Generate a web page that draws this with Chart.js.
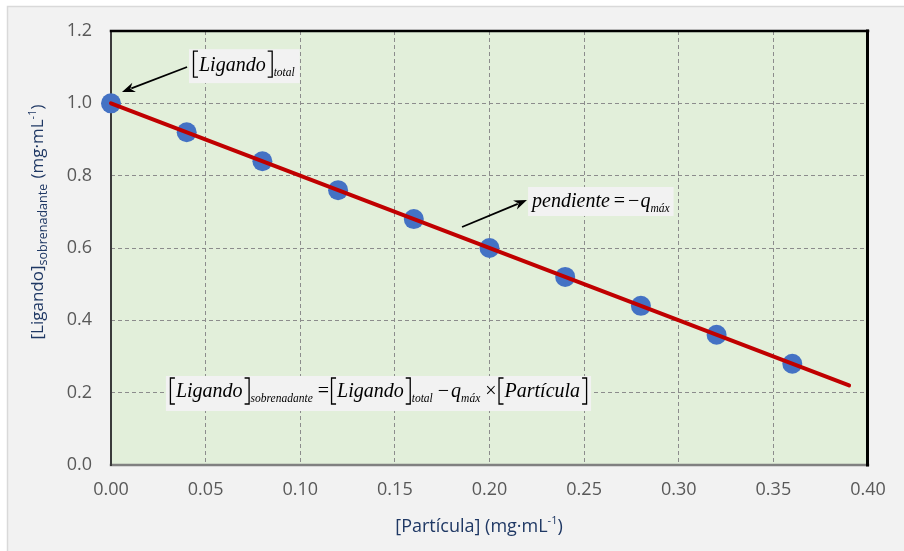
<!DOCTYPE html>
<html><head><meta charset="utf-8">
<script src="https://cdn.jsdelivr.net/npm/chart.js@4"></script>
<style>html,body{margin:0;padding:0;background:#fff;overflow:hidden}canvas{display:block}</style>
</head><body>
<canvas id="c" width="904" height="551"></canvas>
<script>
// ---- data ----
const particula = [0.00, 0.04, 0.08, 0.12, 0.16, 0.20, 0.24, 0.28, 0.32, 0.36];
const ligandoSobrenadante = [1.00, 0.92, 0.84, 0.76, 0.68, 0.60, 0.52, 0.44, 0.36, 0.28];
const ajusteX = [0.00, 0.39];
const ajusteY = [1.00, 0.22];
const xTickValues = [0, 0.05, 0.10, 0.15, 0.20, 0.25, 0.30, 0.35, 0.40];
const yTickValues = [0, 0.2, 0.4, 0.6, 0.8, 1.0, 1.2];
// annotation anchors (data units): text left / baseline, arrow from / to
const notaTotalAt = [0.0428, 1.089];
const flechaTotal = [[0.0402, 1.1005], [0.0058, 1.0313]];
const notaPendienteAt = [0.2225, 0.7134];
const flechaPendiente = [[0.1855, 0.6581], [0.2198, 0.7327]];
const notaEcuacionAt = [0.0306, 0.188];

const SERIF = '"Liberation Serif"';
const IT = 'italic 20px ' + SERIF, UP = '20px ' + SERIF, SUB = 'italic 11.5px ' + SERIF;
const SANS = '"Open Sans"';
const NAVY = '#1f3864';

function runsWidth(ctx, runs) {
  let w = 0;
  for (const r of runs) {
    if (r.b) { w += 7; continue; }
    ctx.font = r.f; w += ctx.measureText(r.t).width + (r.sp || 0);
  }
  return w;
}
function drawRuns(ctx, x, y, runs, bt, bb) {
  let cx = x;
  for (const r of runs) {
    if (r.b) {
      ctx.save(); ctx.lineWidth = 1.3; ctx.strokeStyle = ctx.fillStyle; ctx.beginPath();
      if (r.b === '[') { ctx.moveTo(cx + 6, y - bt); ctx.lineTo(cx + 1.5, y - bt); ctx.lineTo(cx + 1.5, y + bb); ctx.lineTo(cx + 6, y + bb); }
      else { ctx.moveTo(cx + 1, y - bt); ctx.lineTo(cx + 5.5, y - bt); ctx.lineTo(cx + 5.5, y + bb); ctx.lineTo(cx + 1, y + bb); }
      ctx.stroke(); ctx.restore(); cx += 7; continue;
    }
    ctx.font = r.f;
    ctx.fillText(r.t, cx, y + (r.dy || 0));
    cx += ctx.measureText(r.t).width + (r.sp || 0);
  }
  return cx - x;
}
function arrow(ctx, x1, y1, x2, y2) {
  const ang = Math.atan2(y2 - y1, x2 - x1), L = 13, W = 5;
  ctx.save(); ctx.strokeStyle = '#000'; ctx.fillStyle = '#000'; ctx.lineWidth = 1.8;
  ctx.beginPath(); ctx.moveTo(x1, y1);
  ctx.lineTo(x2 - Math.cos(ang) * (L - 3), y2 - Math.sin(ang) * (L - 3)); ctx.stroke();
  ctx.translate(x2, y2); ctx.rotate(ang);
  ctx.beginPath(); ctx.moveTo(0, 0); ctx.lineTo(-L, -W); ctx.lineTo(-L + 4, 0); ctx.lineTo(-L, W); ctx.closePath(); ctx.fill();
  ctx.restore();
}

const runsTotal = [{b:'['},{t:'Ligando',f:IT,sp:1},{b:']'},{t:'total',f:SUB,dy:5}];
const runsPend = [{t:'pendiente',f:IT,sp:4},{t:'=',f:UP,sp:3},{t:'\u2212',f:UP,sp:1},{t:'q',f:IT},{t:'m\u00e1x',f:SUB,dy:5}];
const runsEq = [{b:'['},{t:'Ligando',f:IT,sp:1},{b:']'},{t:'sobrenadante',f:SUB,dy:5,sp:5},{t:'=',f:UP,sp:1},
  {b:'['},{t:'Ligando',f:IT,sp:1},{b:']'},{t:'total',f:SUB,dy:5,sp:5},{t:'\u2212',f:UP,sp:2},{t:'q',f:IT},{t:'m\u00e1x',f:SUB,dy:5,sp:5},
  {t:'\u00d7',f:UP,sp:1},{b:'['},{t:'Part\u00edcula',f:IT,sp:1},{b:']'}];

function nota(chart, at, runs, padL, padR, top, bottom, bt, bb) {
  const ctx = chart.ctx, xs = chart.scales.x, ys = chart.scales.y;
  const x = xs.getPixelForValue(at[0]), y = ys.getPixelForValue(at[1]);
  const w = runsWidth(ctx, runs);
  ctx.save();
  ctx.fillStyle = '#f2f2f2'; ctx.fillRect(x - padL, y - top, w + padL + padR, top + bottom);
  ctx.fillStyle = '#000'; ctx.textBaseline = 'alphabetic'; ctx.textAlign = 'left';
  drawRuns(ctx, x, y, runs, bt, bb);
  ctx.restore();
}

const deco = {
  id: 'deco',
  beforeDraw(chart) {
    const ctx = chart.ctx, a = chart.chartArea;
    ctx.save();
    ctx.fillStyle = '#fff'; ctx.fillRect(0, 0, 904, 551);
    ctx.fillStyle = '#f2f2f2'; ctx.fillRect(7, 6, 897, 545);
    ctx.strokeStyle = '#d9d9d9'; ctx.lineWidth = 1.5;
    ctx.beginPath(); ctx.moveTo(7.5, 551); ctx.lineTo(7.5, 6.5); ctx.lineTo(904, 6.5); ctx.stroke();
    ctx.fillStyle = '#e2efda'; ctx.fillRect(a.left, a.top, a.right - a.left, a.bottom - a.top);
    ctx.restore();
  },
  beforeDatasetsDraw(chart) {
    const ctx = chart.ctx, a = chart.chartArea;
    ctx.save(); ctx.lineCap = 'square'; ctx.setLineDash([]);
    ctx.strokeStyle = '#808080'; ctx.lineWidth = 2.5;
    ctx.beginPath(); ctx.moveTo(a.left, a.bottom); ctx.lineTo(a.right, a.bottom); ctx.stroke();
    ctx.strokeStyle = '#3a3a3a'; ctx.lineWidth = 2;
    ctx.beginPath(); ctx.moveTo(a.left, a.bottom); ctx.lineTo(a.left, a.top); ctx.stroke();
    ctx.strokeStyle = '#000'; ctx.lineWidth = 2.5;
    ctx.beginPath(); ctx.moveTo(a.left, a.top); ctx.lineTo(a.right, a.top); ctx.stroke();
    ctx.lineWidth = 3;
    ctx.beginPath(); ctx.moveTo(a.right - 0.5, a.top); ctx.lineTo(a.right - 0.5, a.bottom); ctx.stroke();
    ctx.restore();
  },
  afterDatasetsDraw(chart) {
    const ctx = chart.ctx, xs = chart.scales.x, ys = chart.scales.y;
    const P = p => [xs.getPixelForValue(p[0]), ys.getPixelForValue(p[1])];
    nota(chart, notaTotalAt, runsTotal, 3, 5, 22, 12, 20, 6);
    let f = P(flechaTotal[0]), t = P(flechaTotal[1]); arrow(ctx, f[0], f[1], t[0], t[1]);
    nota(chart, notaPendienteAt, runsPend, 4, 4, 20, 9, 18, 5);
    f = P(flechaPendiente[0]); t = P(flechaPendiente[1]); arrow(ctx, f[0], f[1], t[0], t[1]);
    nota(chart, notaEcuacionAt, runsEq, 3, 3, 21, 14, 19, 7);

    // axis titles
    ctx.save(); ctx.fillStyle = NAVY; ctx.textBaseline = 'alphabetic';
    const yRuns = [{t:'[Ligando]',f:'17px '+SANS},{t:'sobrenadante',f:'12.5px '+SANS,dy:4,sp:1},{t:' (mg\u00b7mL',f:'17px '+SANS},{t:'-1',f:'11px '+SANS,dy:-7},{t:')',f:'17px '+SANS}];
    const yw = runsWidth(ctx, yRuns);
    ctx.translate(43, 222 + yw / 2); ctx.rotate(-Math.PI / 2);
    drawRuns(ctx, 0, 0, yRuns, 0, 0);
    ctx.restore();
    ctx.save(); ctx.fillStyle = NAVY; ctx.textBaseline = 'alphabetic';
    const xRuns = [{t:'[Part\u00edcula] (mg\u00b7mL',f:'18px '+SANS},{t:'-1',f:'11px '+SANS,dy:-8},{t:')',f:'18px '+SANS}];
    const xw = runsWidth(ctx, xRuns);
    drawRuns(ctx, 479 - xw / 2, 532, xRuns, 0, 0);
    ctx.restore();
  }
};

const tickFont = { family: SANS, size: 18 };
new Chart(document.getElementById('c'), {
  type: 'scatter',
  data: {
    datasets: [
      { data: ajusteX.map((x, i) => ({ x, y: ajusteY[i] })), showLine: true, borderColor: '#c00000', borderWidth: 4,
        borderCapStyle: 'round', pointRadius: 0, order: 0, clip: false },
      { data: particula.map((x, i) => ({ x, y: ligandoSobrenadante[i] })), backgroundColor: '#4472c4', borderColor: '#4472c4',
        borderWidth: 0, pointRadius: 10, order: 1, clip: false }
    ]
  },
  options: {
    responsive: false, animation: false, devicePixelRatio: 1,
    layout: { padding: { left: 0, top: 31, right: 36, bottom: 0 } },
    plugins: { legend: { display: false }, tooltip: { enabled: false } },
    scales: {
      x: {
        type: 'linear', min: 0, max: 0.4,
        afterBuildTicks: s => { s.ticks = xTickValues.map(v => ({ value: v })); },
        afterFit: s => { s.height = 86; },
        ticks: { callback: v => Number(v).toFixed(2), font: tickFont, color: '#595959', padding: 14, maxRotation: 0, autoSkip: false },
        grid: { color: c => (c.tick && (c.tick.value <= 1e-9 || c.tick.value >= 0.4 - 1e-9)) ? 'rgba(0,0,0,0)' : '#8c8c8c', drawTicks: false, lineWidth: 1 },
        border: { display: false, dash: [4, 3] }
      },
      y: {
        type: 'linear', min: 0, max: 1.2,
        afterBuildTicks: s => { s.ticks = yTickValues.map(v => ({ value: v })); },
        afterFit: s => { s.width = 111; },
        ticks: { callback: v => Number(v).toFixed(1), font: tickFont, color: '#595959', padding: 19, autoSkip: false },
        grid: { color: c => (c.tick && (c.tick.value <= 1e-9 || c.tick.value >= 1.2 - 1e-9)) ? 'rgba(0,0,0,0)' : '#8c8c8c', drawTicks: false, lineWidth: 1 },
        border: { display: false, dash: [4, 3] }
      }
    }
  },
  plugins: [deco]
});
</script>
</body></html>
